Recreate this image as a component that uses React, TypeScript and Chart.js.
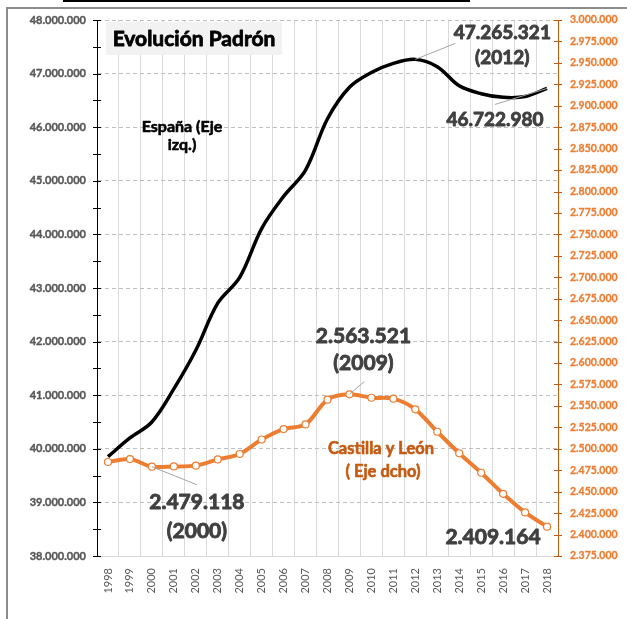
import React, { useEffect, useRef } from 'react';
import { Chart, registerables } from 'chart.js';

Chart.register(...registerables);

const years = ['1998','1999','2000','2001','2002','2003','2004','2005','2006','2007','2008','2009','2010','2011','2012','2013','2014','2015','2016','2017','2018'];
const espana = [39852651,40202160,40499791,41116842,41837894,42717064,43197684,44108530,44708964,45200737,46157822,46745807,47021031,47190493,47265321,47129783,46771341,46624382,46557008,46572132,46722980];
const castilla = [2484603,2488062,2479118,2479425,2480369,2487646,2493918,2510849,2523020,2528417,2557330,2563521,2559515,2558463,2546078,2519875,2494790,2472052,2447519,2425801,2409164];

const leftMin = 38000000;
const leftMax = 48000000;
const leftStep = 1000000;
const rightMin = 2375000;
const rightMax = 3000000;
const rightStep = 25000;

const titleText = 'Evolución Padrón';
const espanaLabel = ['España (Eje', 'izq.)'];
const castillaLabel = ['Castilla y León', '( Eje dcho)'];

const fmt = (v: number) => Math.round(v).toString().replace(/\B(?=(\d{3})+(?!\d))/g, '.');

// callouts: dataset index, point index, text lines, offsets and size (style)
const callouts = [
  { ds: 0, i: 14, lines: [fmt(espana[14]), '(2012)'], dx: 87, dy: -27, gap: 25, size: 19, leader: [40, -16] },
  { ds: 0, i: 20, lines: [fmt(espana[20])], dx: -52, dy: 31, gap: 0, size: 19, leader: [-52, 16] },
  { ds: 1, i: 11, lines: [fmt(castilla[11]), '(2009)'], dx: 14, dy: -58, gap: 27, size: 21, leader: [15, -13] },
  { ds: 1, i: 2, lines: [fmt(castilla[2]), '(2000)'], dx: 45, dy: 36, gap: 29, size: 21, leader: [45, 18] },
  { ds: 1, i: 20, lines: [fmt(castilla[20])], dx: -54, dy: 11, gap: 0, size: 21, leader: null as null | number[] },
];

const FONT = 'Lato, "Open Sans", sans-serif';

function heavyText(ctx: CanvasRenderingContext2D, t: string, x: number, y: number, color: string, sw: number) {
  ctx.fillStyle = color;
  ctx.strokeStyle = color;
  ctx.lineWidth = sw;
  ctx.lineJoin = 'round';
  ctx.fillText(t, x, y);
  ctx.strokeText(t, x, y);
}

const decorPlugin = {
  id: 'decor',
  beforeDraw(chart: any) {
    const ctx = chart.ctx;
    ctx.save();
    ctx.fillStyle = '#ffffff';
    ctx.fillRect(0, 0, chart.width, chart.height);
    ctx.fillStyle = '#000000';
    ctx.fillRect(63, 0, 407, 2);
    ctx.fillStyle = '#8c8c8c';
    ctx.fillRect(6, 7, chart.width - 6, 2);
    ctx.fillRect(6, 7, 2, chart.height - 7);
    ctx.restore();
  },
  afterDatasetsDraw(chart: any) {
    const ctx = chart.ctx;
    const y = chart.scales.y;
    const y2 = chart.scales.y2;
    ctx.save();
    // cross tick marks
    ctx.lineWidth = 1;
    ctx.strokeStyle = '#000000';
    for (let v = leftMin; v <= leftMax; v += leftStep / 2) {
      const py = Math.round(y.getPixelForValue(v)) + 0.5;
      ctx.beginPath();
      ctx.moveTo(y.right - 4, py);
      ctx.lineTo(y.right + 4, py);
      ctx.stroke();
    }
    ctx.strokeStyle = '#C55A11';
    for (let v = rightMin; v <= rightMax; v += rightStep) {
      const py = Math.round(y2.getPixelForValue(v)) + 0.5;
      ctx.beginPath();
      ctx.moveTo(y2.left - 4, py);
      ctx.lineTo(y2.left + 4, py);
      ctx.stroke();
    }

    // title
    ctx.fillStyle = '#f2f2f2';
    ctx.fillRect(106, 22, 176, 33);
    ctx.font = `bold 21px ${FONT}`;
    ctx.textAlign = 'center';
    ctx.textBaseline = 'middle';
    heavyText(ctx, titleText, 194, 39, '#000000', 0.8);

    // series labels
    ctx.font = `bold 16px ${FONT}`;
    heavyText(ctx, espanaLabel[0], 182, 127, '#000000', 0.6);
    heavyText(ctx, espanaLabel[1], 182, 145, '#000000', 0.6);
    ctx.font = `bold 16.5px ${FONT}`;
    heavyText(ctx, castillaLabel[0], 381, 449, '#C55A11', 0.6);
    heavyText(ctx, castillaLabel[1], 383, 472, '#C55A11', 0.6);

    // callouts
    const x = chart.scales.x;
    callouts.forEach((c) => {
      const vals = c.ds === 0 ? espana : castilla;
      const sc = c.ds === 0 ? y : y2;
      const px = x.getPixelForValue(c.i);
      const py = sc.getPixelForValue(vals[c.i]);
      if (c.leader) {
        ctx.strokeStyle = '#a6a6a6';
        ctx.lineWidth = 1;
        ctx.beginPath();
        ctx.moveTo(px, py);
        ctx.lineTo(px + c.leader[0], py + c.leader[1]);
        ctx.stroke();
      }
      ctx.font = `bold ${c.size}px ${FONT}`;
      c.lines.forEach((t, k) => {
        heavyText(ctx, t, px + c.dx, py + c.dy + k * c.gap, '#404040', 0.9);
      });
    });
    ctx.restore();
  },
};

export default function App() {
  const ref = useRef<HTMLCanvasElement>(null);
  useEffect(() => {
    if (!ref.current) return;
    const chart = new Chart(ref.current, {
      type: 'line',
      data: {
        labels: years,
        datasets: [
          {
            label: 'España',
            data: espana,
            yAxisID: 'y',
            borderColor: '#000000',
            borderWidth: 3.5,
            pointRadius: 0,
            tension: 0.35,
          },
          {
            label: 'Castilla y León',
            data: castilla,
            yAxisID: 'y2',
            borderColor: '#ED7D31',
            borderWidth: 4,
            pointRadius: 3.5,
            pointBackgroundColor: '#ffffff',
            pointBorderColor: '#ED7D31',
            pointBorderWidth: 1.2,
            tension: 0.3,
          },
        ],
      },
      options: {
        animation: false,
        responsive: false,
        devicePixelRatio: 1,
        layout: { padding: { top: 20, left: 0, right: 0, bottom: 0 } },
        plugins: { legend: { display: false }, tooltip: { enabled: false } },
        scales: {
          x: {
            type: 'category',
            offset: true,
            grid: { offset: true, color: '#d9d9d9', drawTicks: false },
            border: { color: '#d9d9d9', width: 1 },
            ticks: {
              minRotation: 90,
              maxRotation: 90,
              autoSkip: false,
              padding: 12,
              color: '#595959',
              font: { family: FONT, size: 11 },
            },
            afterFit: (s: any) => { s.height = 63; },
          },
          y: {
            position: 'left',
            min: leftMin,
            max: leftMax,
            ticks: {
              stepSize: leftStep,
              padding: 11,
              color: '#595959',
              textStrokeColor: '#595959',
              textStrokeWidth: 0.4,
              font: { family: FONT, size: 11, weight: 'bold' },
              callback: (v: any) => fmt(Number(v)),
            },
            grid: {
              drawTicks: false,
              color: (c: any) => (c.tick && c.tick.value === leftMin ? 'rgba(0,0,0,0)' : '#bfbfbf'),
            },
            border: { color: '#000000', width: 1, dash: [4, 3] },
            afterFit: (s: any) => { s.width = 97; },
          },
          y2: {
            position: 'right',
            min: rightMin,
            max: rightMax,
            ticks: {
              stepSize: rightStep,
              padding: 12,
              color: '#ED7D31',
              textStrokeColor: '#ED7D31',
              textStrokeWidth: 0.3,
              font: { family: FONT, size: 10.5, weight: 'bold' },
              callback: (v: any) => fmt(Number(v)),
            },
            grid: { drawOnChartArea: false, drawTicks: false },
            border: { color: '#C55A11', width: 1 },
            afterFit: (s: any) => { s.width = 69; },
          },
        },
      } as any,
      plugins: [decorPlugin],
    });
    return () => chart.destroy();
  }, []);
  return (
    <div style={{ position: 'absolute', left: 0, top: 0, width: 627, height: 619 }}>
      <canvas ref={ref} width={627} height={619} style={{ width: 627, height: 619, display: 'block' }} />
    </div>
  );
}
